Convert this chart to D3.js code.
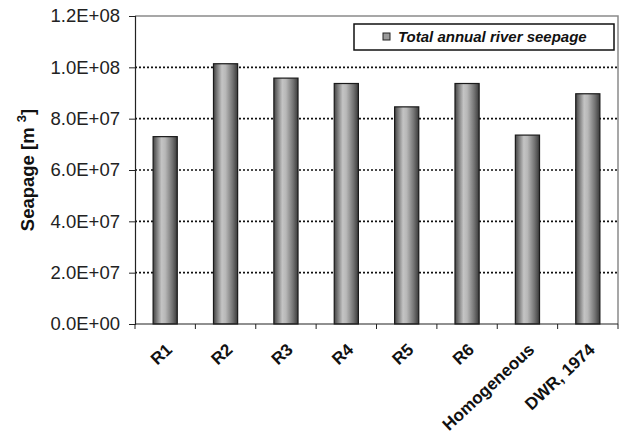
<!DOCTYPE html>
<html><head><meta charset="utf-8">
<script src="https://cdn.jsdelivr.net/npm/d3@7"></script>
<style>body{margin:0;background:#fff}svg{display:block}</style>
</head><body><svg id="c" width="624" height="434"></svg>
<script>
const categories = ["R1","R2","R3","R4","R5","R6","Homogeneous","DWR, 1974"];
const seepage = [7.3e7, 1.014e8, 9.58e7, 9.37e7, 8.46e7, 9.37e7, 7.36e7, 8.97e7];
const yTicks = [0, 2e7, 4e7, 6e7, 8e7, 1e8, 1.2e8];
const yTickLabels = ["0.0E+00","2.0E+07","4.0E+07","6.0E+07","8.0E+07","1.0E+08","1.2E+08"];
const seriesName = "Total annual river seepage";

const svg = d3.select("#c");
const L = 135, R = 618, T = 16, B = 324;
const FONT = "Liberation Sans, Arial, sans-serif";
const x = d3.scaleBand().domain(categories).range([L, R]).paddingInner(0.6).paddingOuter(0.3);
const xb = d3.scaleBand().domain(categories).range([L, R]);
const y = d3.scaleLinear().domain([0, 1.2e8]).range([B, T]);

const defs = svg.append("defs");
const g = defs.append("linearGradient").attr("id","bar").attr("x1","0").attr("x2","1").attr("y1","0").attr("y2","0");
[[0,"#444"],[0.35,"#c4c4c4"],[0.5,"#b8b8b8"],[0.8,"#727272"],[1,"#3a3a3a"]].forEach(([o,c])=>g.append("stop").attr("offset",o).attr("stop-color",c));

// frame top/right
svg.append("path").attr("d",`M${L},${T}H${R}V${B}`).attr("fill","none").attr("stroke","#8a8a8a").attr("stroke-width",1.5);

// grid
svg.append("g").selectAll("line").data(yTicks.filter(v=>v>0 && v<1.2e8)).join("line")
  .attr("x1",L).attr("x2",R).attr("y1",d=>y(d)).attr("y2",d=>y(d))
  .attr("stroke","#111").attr("stroke-width",1.6).attr("stroke-dasharray","2,2");

// bars
svg.append("g").selectAll("rect").data(categories).join("rect")
  .attr("x",d=>x(d)).attr("width",x.bandwidth())
  .attr("y",(d,i)=>y(seepage[i])).attr("height",(d,i)=>B-y(seepage[i]))
  .attr("fill","url(#bar)").attr("stroke","#1a1a1a").attr("stroke-width",1.2);

// y axis
const yAxis = d3.axisLeft(y).tickValues(yTicks).tickFormat((d,i)=>yTickLabels[i]).tickSize(6).tickPadding(9);
const ya = svg.append("g").attr("transform",`translate(${L},0)`).call(yAxis);
ya.select(".domain").attr("stroke","#222").attr("stroke-width",1.2);
ya.selectAll(".tick line").attr("stroke","#222");
ya.selectAll("text").attr("font-family",FONT).attr("font-size",18.5).attr("fill","#222");

// x axis
const xa = svg.append("g").attr("transform",`translate(0,${B})`).call(d3.axisBottom(x).tickSize(0).tickPadding(0));
xa.select(".domain").remove();
svg.append("line").attr("x1",L).attr("x2",R).attr("y1",B).attr("y2",B).attr("stroke","#222").attr("stroke-width",1.2);
svg.append("g").selectAll("line").data(d3.range(categories.length+1)).join("line")
  .attr("x1",i=>L+i*xb.step()).attr("x2",i=>L+i*xb.step()).attr("y1",B).attr("y2",B+5).attr("stroke","#222");
xa.selectAll("text").attr("font-family",FONT).attr("font-size",17).attr("font-weight","bold").attr("fill","#111")
  .attr("text-anchor","end").attr("dy",null).attr("y",0)
  .attr("transform","translate(8,27) rotate(-43)");

// y label
svg.append("text").attr("transform",`translate(34,${(T+B)/2}) rotate(-90)`).attr("text-anchor","middle")
  .attr("font-family",FONT).attr("font-size",18.5).attr("font-weight","bold").attr("fill","#111")
  .text("Seapage [m ").append("tspan").attr("dy",-8).attr("font-size",13).text("3").select(function(){return this.parentNode;})
  .append("tspan").attr("dy",8).attr("font-size",18.5).text("]");

// legend
const lg = svg.append("g");
lg.append("rect").attr("x",354).attr("y",24).attr("width",260).attr("height",26).attr("fill","#fff").attr("stroke","#111").attr("stroke-width",1.5);
lg.append("rect").attr("x",383).attr("y",33).attr("width",7).attr("height",7).attr("fill","#9a9a9a").attr("stroke","#222").attr("stroke-width",1);
lg.append("text").attr("x",398).attr("y",42).attr("font-family",FONT).attr("font-size",15).attr("font-weight","bold").attr("font-style","italic").attr("fill","#111").text(seriesName);
</script></body></html>
